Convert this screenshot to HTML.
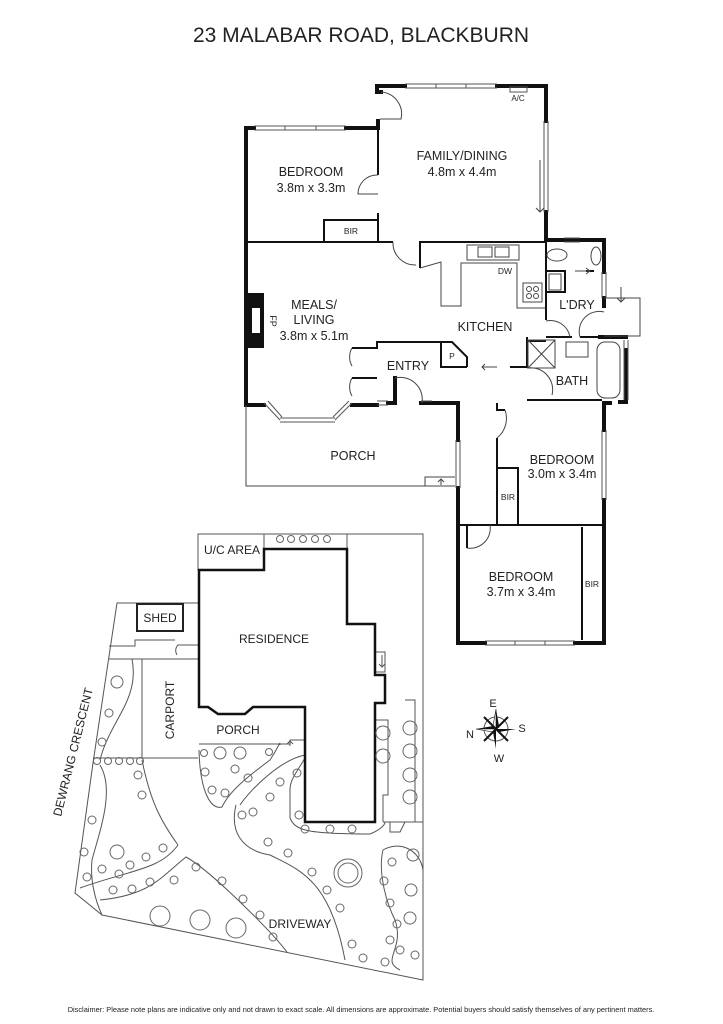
<!DOCTYPE html>
<html><head><meta charset="utf-8"><style>
html,body{margin:0;padding:0;background:#fff;}
svg{display:block}
text{font-family:"Liberation Sans",Arial,sans-serif;fill:#222}
</style></head><body>
<svg width="723" height="1024" viewBox="0 0 723 1024" xmlns="http://www.w3.org/2000/svg">
<rect width="723" height="1024" fill="#fff"/>
<text x="361" y="42" font-size="21" text-anchor="middle">23 MALABAR ROAD, BLACKBURN</text>

<g fill="none" stroke="#111" stroke-width="4" stroke-linecap="square">
  <path d="M381,92 L377,92 L377,86 L405,86"/>
  <path d="M497,86 L546,86 L546,121"/>
  <path d="M546,212 L546,240 L604,240 L604,272"/>
  <path d="M604,298 L604,306"/>
  <path d="M378,121 L378,128 L346,128"/>
  <path d="M254,128 L246,128 L246,405 L264,405"/>
  <path d="M352,405 L377,405"/>
  <path d="M388,403 L395,403 L395,378"/>
  <path d="M421,403 L458,403 L458,440"/>
  <path d="M458,488 L458,643 L485,643"/>
  <path d="M575,643 L604,643 L604,500"/>
  <path d="M604,430 L604,403 L610,403"/>
  <path d="M604,337 L626,337"/>
  <path d="M626,350 L626,402 L620,402"/>
  <path d="M600,337 L604,337"/>
</g>
<rect x="246" y="293" width="18" height="55" fill="#111"/>
<rect x="252" y="308" width="8" height="25" fill="#fff"/>
<text x="270" y="321" font-size="9" transform="rotate(90 270 321)" text-anchor="middle">FP</text>

<g fill="none" stroke="#111" stroke-width="2">
  <path d="M378,128 L378,175"/>
  <path d="M378,213 L378,242"/>
  <path d="M246,242 L393,242"/>
  <path d="M324,242 L324,220 L378,220"/>
  <path d="M420,268 L420,242 L546,242"/>
  <path d="M546,242 L546,320"/>
  <path d="M546,337 L572,337"/>
  <path d="M580,337 L604,337"/>
  <path d="M546,271 L565,271 L565,292 L546,292"/>
  <path d="M586,271 L594,271"/>
  <path d="M527,337 L527,368"/>
  <path d="M527,341 L546,341"/>
  <path d="M510,367 L527,367"/>
  <path d="M352,348 L377,348 L377,342 L441,342 L441,367 L467,367"/>
  <path d="M441,342 L452,342 L467,357 L467,367"/>
  <path d="M352,378 L377,378"/>
  <path d="M527,400 L602,400"/>
  <path d="M497,403 L497,410 L505,410"/>
  <path d="M497,438 L497,525"/>
  <path d="M497,468 L518,468 L518,525"/>
  <path d="M458,525 L604,525"/>
  <path d="M582,527 L582,640"/>
  <path d="M458,525 L467,525 L467,548"/>
</g>
<g fill="none" stroke="#555" stroke-width="1">
  <path d="M405,84 L497,84 M405,88 L497,88"/>
  <path d="M436,84v4 M466,84v4"/>
  <path d="M254,126 L346,126 M254,130 L346,130 M285,126v4 M316,126v4"/>
  <path d="M544,121 L544,212 M548,121 L548,212"/>
  <path d="M602,272 L602,298 M606,272 L606,298"/>
  <path d="M564,238 L580,238 M564,242 L580,242"/>
  <path d="M624,340 L624,400 M628,340 L628,400"/>
  <path d="M602,430 L602,500 M606,430 L606,500"/>
  <path d="M456,440 L456,488 M460,440 L460,488"/>
  <path d="M485,641 L575,641 M485,645 L575,645 M515,641v4 M545,641v4"/>
  <path d="M280,418 L335,418 M280,422 L335,422"/>
  <path d="M264,403 L280,420 M268,401 L282,417"/>
  <path d="M335,420 L352,403 M333,417 L349,401"/>
  <path d="M377,401 L388,401 M377,405 L388,405"/>
  <path d="M421,401 L432,401"/>
  <rect x="510" y="87" width="17" height="5"/>
</g>
<text x="518" y="101" font-size="8" text-anchor="middle">A/C</text>
<g fill="none" stroke="#444" stroke-width="1">
  <path d="M381,92 A22,22 0 0 1 401,119 L380,119"/>
  <path d="M378,175 A19,19 0 0 0 358,194 L378,194"/>
  <path d="M393,242 A22,22 0 0 0 416,265"/>
  <path d="M352,348 A18,18 0 0 0 352,366"/>
  <path d="M352,378 A18,18 0 0 0 352,396"/>
  <path d="M395,378 A22,22 0 0 1 422,403"/>
  <path d="M546,321 A20,20 0 0 1 570,337"/>
  <path d="M580,337 A20,20 0 0 1 604,312"/>
  <path d="M527,368 A22,22 0 0 1 552,395"/>
  <path d="M505,410 A25,25 0 0 1 497,438"/>
  <path d="M467,548 A20,20 0 0 0 490,525"/>
  <path d="M604,298 L640,298 L640,336 L604,336"/>
  <path d="M621,287 L621,302 M617,298 L621,302 L625,298"/>
  <path d="M540,160 L540,212 M536,208 L540,212 L544,208"/>
  <path d="M575,271 L590,271 M586,268 L590,271 L586,274"/>
  <path d="M482,367 L497,367 M485,364 L482,367 L485,370"/>
  <path d="M420,268 L441,262 L441,306 L461,306 L461,263 L517,263 L517,308 L545,308"/>
  <rect x="467" y="245" width="52" height="15"/>
  <rect x="478" y="247" width="14" height="10"/>
  <rect x="495" y="247" width="14" height="10"/>
  <rect x="523" y="283" width="19" height="19"/>
  <circle cx="529" cy="289" r="2.5"/><circle cx="536" cy="289" r="2.5"/>
  <circle cx="529" cy="296" r="2.5"/><circle cx="536" cy="296" r="2.5"/>
  <rect x="549" y="274" width="12" height="16"/>
  <ellipse cx="557" cy="255" rx="10" ry="6"/>
  <ellipse cx="596" cy="256" rx="5" ry="9"/>
  <rect x="528" y="340" width="27" height="28"/>
  <path d="M528,340 L555,368 M555,340 L528,368"/>
  <rect x="566" y="342" width="22" height="15"/>
  <rect x="597" y="342" width="23" height="56" rx="8"/>
  <path d="M246,405 L246,486 L455,486"/>
  <path d="M425,486 L425,477 L455,477"/>
  <path d="M441,485 L441,479 M438,482 L441,479 L444,482"/>
</g>
<g font-size="12.5" text-anchor="middle">
  <text x="311" y="176">BEDROOM</text><text x="311" y="192">3.8m x 3.3m</text>
  <text x="462" y="160">FAMILY/DINING</text><text x="462" y="176">4.8m x 4.4m</text>
  <text x="314" y="309">MEALS/</text><text x="314" y="324">LIVING</text><text x="314" y="340">3.8m x 5.1m</text>
  <text x="485" y="331">KITCHEN</text>
  <text x="577" y="309">L'DRY</text>
  <text x="408" y="370">ENTRY</text>
  <text x="572" y="385">BATH</text>
  <text x="353" y="460">PORCH</text>
  <text x="562" y="464">BEDROOM</text><text x="562" y="478">3.0m x 3.4m</text>
  <text x="521" y="581">BEDROOM</text><text x="521" y="596">3.7m x 3.4m</text>
</g>
<g font-size="8.5" text-anchor="middle">
  <text x="351" y="234">BIR</text>
  <text x="505" y="274">DW</text>
  <text x="452" y="359">P</text>
  <text x="508" y="500">BIR</text>
  <text x="592" y="587">BIR</text>
</g>

<g fill="none" stroke="#555" stroke-width="1">
  <path d="M198,534 L423,534 L423,980 L102,915 L75,893 L93,763 L117,603 L198,603"/>
  <rect x="198" y="534" width="66" height="36"/>
  <path d="M264,534 L264,549 M347,534 L347,549"/>
  <path d="M109,646 L135,646 L135,640 L175,640 M177,655 A8,8 0 0 1 178,645 L199,645"/>
  <path d="M109,659 L198,659"/>
  <path d="M142,659 L142,758 L198,758"/>
  <path d="M93,758 L142,758"/>
  <path d="M199,744 L290,744 L290,740 L305,740"/>
  <path d="M405,700 L415,700 L415,822 L405,822 L400,832 L390,832 L390,822"/>
  <path d="M376,720 L388,720 L388,795 L383,795 L383,822"/>
  <path d="M375,652 L385,652 L385,672 L375,672"/>
  <path d="M382,655 L382,667 M379,664 L382,667 L385,664"/>
  <path d="M290,741 L290,746 M287,744 L290,741 L293,744"/>
  <path d="M423,822 L383,822"/>
  <path d="M132,659 C140,700 110,720 100,760"/>
  <path d="M100,765 C115,790 100,830 92,860 C90,880 95,900 102,915"/>
  <path d="M80,888 C130,870 160,870 178,845 M142,760 C150,800 160,820 178,845"/>
  <path d="M100,900 C150,895 160,878 186,857 C210,870 270,930 287,952"/>
  <path d="M199,750 C200,790 210,810 222,807 C230,790 250,775 270,760 C280,745 280,740 280,745"/>
  <path d="M236,805 C230,830 240,850 270,855 C300,870 330,880 345,960"/>
  <path d="M305,755 C280,760 250,790 240,805"/>
  <path d="M305,758 C295,775 290,780 290,790 L290,818 C295,830 305,834 370,834 C380,830 385,825 385,822"/>
  <path d="M383,850 C400,840 420,850 423,870 M383,850 C378,870 385,900 395,920 C405,950 380,960 400,970"/>
</g>
<g fill="none" stroke="#111" stroke-width="2.5">
  <path d="M199,570 L264,570 L264,549 L347,549 L347,624 L375,624 L375,675 L385,675 L385,703 L375,703 L375,822 L305,822 L305,707 L253,707 L245,714 L218,714 L208,707 L199,707 Z"/>
</g>
<rect x="137" y="604" width="46" height="27" fill="none" stroke="#222" stroke-width="2"/>
<g fill="none" stroke="#666" stroke-width="1">
  <circle cx="280" cy="539" r="3.5"/><circle cx="291" cy="539" r="3.5"/><circle cx="303" cy="539" r="3.5"/><circle cx="315" cy="539" r="3.5"/><circle cx="327" cy="539" r="3.5"/>
  <circle cx="97" cy="761" r="3.5"/><circle cx="108" cy="761" r="3.5"/><circle cx="119" cy="761" r="3.5"/><circle cx="130" cy="761" r="3.5"/><circle cx="140" cy="761" r="3.5"/>
  <circle cx="117" cy="682" r="6"/><circle cx="109" cy="713" r="4"/><circle cx="102" cy="742" r="4"/>
  <circle cx="138" cy="775" r="4"/><circle cx="142" cy="795" r="4"/><circle cx="92" cy="820" r="4"/>
  <circle cx="84" cy="852" r="4"/><circle cx="117" cy="852" r="7"/><circle cx="146" cy="857" r="4"/><circle cx="163" cy="848" r="4"/>
  <circle cx="102" cy="869" r="4"/><circle cx="119" cy="874" r="4"/><circle cx="130" cy="865" r="4"/><circle cx="87" cy="877" r="4"/>
  <circle cx="113" cy="890" r="4"/><circle cx="132" cy="889" r="4"/><circle cx="150" cy="882" r="4"/><circle cx="174" cy="880" r="4"/>
  <circle cx="160" cy="916" r="10"/><circle cx="200" cy="920" r="10"/><circle cx="236" cy="928" r="10"/>
  <circle cx="196" cy="867" r="4"/><circle cx="222" cy="881" r="4"/><circle cx="243" cy="899" r="4"/><circle cx="260" cy="915" r="4"/><circle cx="273" cy="937" r="4"/>
  <circle cx="204" cy="753" r="3.5"/><circle cx="220" cy="753" r="6"/><circle cx="240" cy="753" r="6"/><circle cx="269" cy="752" r="3.5"/>
  <circle cx="205" cy="772" r="4"/><circle cx="235" cy="769" r="4"/><circle cx="248" cy="778" r="4"/><circle cx="212" cy="790" r="4"/><circle cx="225" cy="793" r="4"/>
  <circle cx="297" cy="773" r="4"/><circle cx="280" cy="782" r="4"/><circle cx="270" cy="797" r="4"/><circle cx="253" cy="812" r="4"/><circle cx="242" cy="815" r="4"/>
  <circle cx="299" cy="815" r="4"/><circle cx="305" cy="829" r="4"/><circle cx="330" cy="829" r="4"/><circle cx="352" cy="829" r="4"/>
  <circle cx="268" cy="842" r="4"/><circle cx="288" cy="853" r="4"/><circle cx="312" cy="872" r="4"/><circle cx="327" cy="890" r="4"/><circle cx="340" cy="908" r="4"/><circle cx="352" cy="944" r="4"/>
  <circle cx="348" cy="873" r="14"/><circle cx="348" cy="873" r="10"/>
  <circle cx="392" cy="862" r="4"/><circle cx="413" cy="855" r="6"/><circle cx="384" cy="881" r="4"/><circle cx="411" cy="890" r="6"/><circle cx="390" cy="903" r="4"/><circle cx="410" cy="918" r="6"/><circle cx="397" cy="924" r="4"/><circle cx="390" cy="940" r="4"/><circle cx="400" cy="950" r="4"/><circle cx="415" cy="955" r="4"/><circle cx="363" cy="958" r="4"/><circle cx="385" cy="962" r="4"/>
  <circle cx="383" cy="733" r="7"/><circle cx="383" cy="756" r="7"/><circle cx="410" cy="728" r="7"/><circle cx="410" cy="751" r="7"/><circle cx="410" cy="775" r="7"/><circle cx="410" cy="797" r="7"/>
</g>
<g font-size="12" text-anchor="middle">
  <text x="232" y="554">U/C AREA</text>
  <text x="160" y="622">SHED</text>
  <text x="274" y="643">RESIDENCE</text>
  <text x="238" y="734">PORCH</text>
  <text x="300" y="928">DRIVEWAY</text>
  <text x="174" y="710" transform="rotate(-90 174 710)">CARPORT</text>
  <text x="77" y="753" transform="rotate(-76 77 753)">DEWRANG CRESCENT</text>
</g>
<g transform="translate(496,729)">
  <circle r="12" fill="none" stroke="#555"/>
  <path d="M0,-20 L3,-3 L0,0 Z M20,0 L3,3 L0,0 Z M0,20 L-3,3 L0,0 Z M-20,0 L-3,-3 L0,0 Z" fill="#111"/>
  <path d="M0,-20 L-3,-3 L0,0 Z M-20,0 L-3,3 L0,0 Z" fill="#fff" stroke="#111" stroke-width="0.6"/>
  <path d="M-12,-12 L12,12 M12,-12 L-12,12" stroke="#111" stroke-width="2"/>
</g>
<g font-size="11" text-anchor="middle">
  <text x="493" y="707">E</text><text x="522" y="732">S</text><text x="470" y="738">N</text><text x="499" y="762">W</text>
</g>
<text x="361" y="1012" font-size="7.4" text-anchor="middle">Disclaimer: Please note plans are indicative only and not drawn to exact scale. All dimensions are approximate. Potential buyers should satisfy themselves of any pertinent matters.</text>
</svg>
</body></html>
